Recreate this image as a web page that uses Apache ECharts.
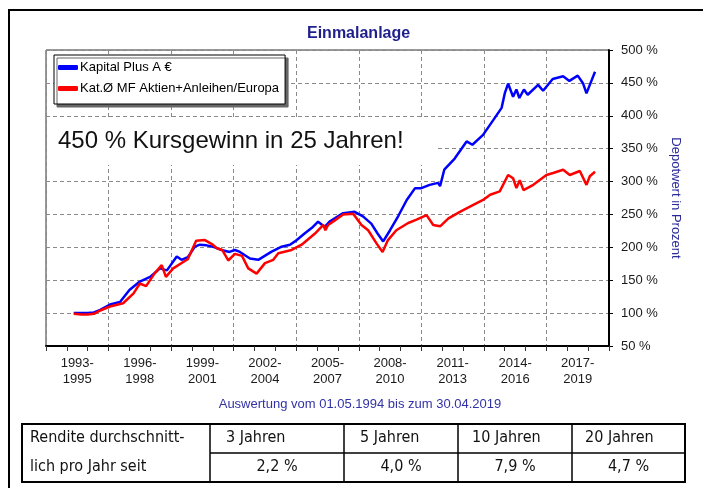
<!DOCTYPE html>
<html>
<head>
<meta charset="utf-8">
<title>Einmalanlage</title>
<script src="https://cdn.jsdelivr.net/npm/echarts@6/dist/echarts.min.js"></script>
<style>
  html, body { margin: 0; padding: 0; background: #fff; }
  #chart { width: 703px; height: 488px; }
</style>
</head>
<body>
<div id="chart"></div>
<script>
// x = Jahr (Dezimal), y = Depotwert in %
var kapitalX = [1994.33, 1994.7, 1995.0, 1995.3, 1995.6, 1996.07, 1996.55, 1997.0, 1997.5, 1997.99,
  1998.47, 1998.8, 1999.27, 1999.5, 1999.8, 2000.14, 2000.38, 2000.7, 2001.0, 2001.42,
  2001.8, 2002.06, 2002.3, 2002.54, 2002.78, 2003.18, 2003.8, 2004.3, 2004.7, 2004.94,
  2005.4, 2005.8, 2006.05, 2006.37, 2006.6, 2006.85, 2007.25, 2007.8, 2008.2, 2008.6,
  2008.9, 2009.17, 2009.5, 2009.9, 2010.3, 2010.7, 2011.0, 2011.4, 2011.8, 2011.9,
  2012.1, 2012.6, 2013.17, 2013.45, 2013.96, 2014.44, 2014.85, 2015.0, 2015.16, 2015.4,
  2015.56, 2015.7, 2015.92, 2016.1, 2016.6, 2016.84, 2017.3, 2017.8, 2018.1, 2018.5,
  2018.76, 2018.92, 2019.08, 2019.33];
var kapitalY = [100, 100, 100, 101, 105, 113, 117, 135, 148, 155,
  168, 165, 186, 181, 185, 201, 204, 203, 201, 196,
  193, 196, 193, 188, 183, 181, 193, 201, 204, 209,
  221, 231, 239, 231, 239, 244, 252, 254, 247, 236,
  221, 209, 226, 248, 272, 290, 290, 295, 298, 293,
  318, 335, 361, 356, 371, 393, 412, 434, 449, 429,
  440, 427, 440, 432, 447, 438, 456, 460, 453, 461,
  449, 434, 447, 467];

var katX = [1994.33, 1994.7, 1995.0, 1995.3, 1995.6, 1996.07, 1996.7, 1997.2, 1997.5, 1997.8,
  1998.2, 1998.55, 1998.75, 1999.1, 1999.6, 1999.8, 2000.2, 2000.62, 2001.0, 2001.18,
  2001.45, 2001.74, 2002.06, 2002.4, 2002.7, 2003.1, 2003.5, 2003.9, 2004.14, 2004.78,
  2005.26, 2005.9, 2006.3, 2006.4, 2006.53, 2006.85, 2007.25, 2007.73, 2008.13, 2008.45,
  2008.85, 2009.14, 2009.4, 2009.8, 2010.37, 2010.77, 2011.25, 2011.57, 2011.9, 2012.3,
  2012.85, 2013.33, 2013.96, 2014.3, 2014.76, 2015.16, 2015.4, 2015.56, 2015.72, 2015.9,
  2016.37, 2017.0, 2017.32, 2017.8, 2018.12, 2018.6, 2018.92, 2019.08, 2019.33];
var katY = [99, 98, 98, 99, 104, 110, 115, 130, 145, 141,
  160, 173, 155, 168, 178, 182, 210, 211, 204, 199,
  196, 180, 190, 187, 168, 160, 176, 181, 191, 196,
  204, 221, 234, 226, 234, 241, 250, 251, 234, 226,
  206, 193, 211, 226, 237, 242, 249, 234, 232, 244,
  254, 262, 272, 280, 285, 310, 305, 290, 302, 287,
  295, 310, 313, 318, 310, 316, 295, 308, 315];

var zeitraeume = ['1993-\n1995', '1996-\n1998', '1999-\n2001', '2002-\n2004', '2005-\n2007',
  '2008-\n2010', '2011-\n2013', '2014-\n2016', '2017-\n2019'];

var tabelleKopf = ['3 Jahren', '5 Jahren', '10 Jahren', '20 Jahren'];
var tabelleWerte = ['2,2 %', '4,0 %', '7,9 %', '4,7 %'];

function paare(xs, ys) {
  var out = [];
  for (var i = 0; i < xs.length; i++) out.push([xs[i], ys[i]]);
  return out;
}

var font = 'Liberation Sans, Arial, sans-serif';
var tabFont = '"DejaVu Sans Condensed", "Liberation Sans Narrow", sans-serif';

// Tabelle unten
var spalten = [22, 210, 344, 458, 572, 685];
var kopfLinks = [226, 360, 472, 585];
var tabTop = 424, tabMitte = 453, tabUnten = 482;
var tabelle = [
  { type: 'rect', shape: { x: spalten[0], y: tabTop, width: spalten[5] - spalten[0], height: tabUnten - tabTop },
    style: { fill: 'none', stroke: '#000', lineWidth: 2 } },
  { type: 'line', shape: { x1: spalten[1], y1: tabMitte, x2: spalten[5], y2: tabMitte },
    style: { stroke: '#000', lineWidth: 1.5 } },
  { type: 'text', x: 30, y: (tabTop + tabMitte) / 2 - 1,
    style: { text: 'Rendite durchschnitt-', font: '16px ' + tabFont, fill: '#111', verticalAlign: 'middle' } },
  { type: 'text', x: 30, y: (tabMitte + tabUnten) / 2 - 1,
    style: { text: 'lich pro Jahr seit', font: '16px ' + tabFont, fill: '#111', verticalAlign: 'middle' } }
];
for (var i = 1; i <= 4; i++) {
  tabelle.push({ type: 'line', shape: { x1: spalten[i], y1: tabTop, x2: spalten[i], y2: tabUnten },
    style: { stroke: '#000', lineWidth: 1.5 } });
  tabelle.push({ type: 'text', x: kopfLinks[i - 1], y: (tabTop + tabMitte) / 2 - 1,
    style: { text: tabelleKopf[i - 1], font: '16px ' + tabFont, fill: '#111', verticalAlign: 'middle' } });
  tabelle.push({ type: 'text', x: (spalten[i] + spalten[i + 1]) / 2, y: (tabMitte + tabUnten) / 2 - 1,
    style: { text: tabelleWerte[i - 1], font: '16px ' + tabFont, fill: '#111', textAlign: 'center', verticalAlign: 'middle' } });
}

var chart = echarts.init(document.getElementById('chart'));

var option = {
  animation: false,
  textStyle: { fontFamily: font },
  title: {
    text: 'Einmalanlage',
    left: 307,
    top: 26,
    padding: 0,
    textStyle: { fontSize: 16, fontWeight: 'bold', color: '#1f1f8c', fontFamily: font }
  },
  legend: {
    orient: 'vertical',
    left: 54,
    top: 55,
    padding: [6, 6, 9, 4],
    itemGap: 8,
    itemWidth: 20,
    itemHeight: 5,
    icon: 'roundRect',
    backgroundColor: '#fff',
    borderColor: '#000',
    borderWidth: 1,
    shadowColor: '#666',
    shadowOffsetX: 3,
    shadowOffsetY: 3,
    shadowBlur: 0,
    textStyle: { fontSize: 13, color: '#000', fontFamily: font, padding: [0, 0, 0, -3] },
    data: ['Kapital Plus A €', 'Kat.Ø MF Aktien+Anleihen/Europa']
  },
  grid: {
    left: 46, top: 50, right: 94, bottom: 142,
    show: true, borderColor: '#333', borderWidth: 1
  },
  xAxis: [{
    type: 'value',
    min: 1993, max: 2020, interval: 1,
    position: 'bottom',
    axisLine: { lineStyle: { color: '#000', width: 2 } },
    axisTick: { show: true, length: 5, lineStyle: { color: '#333', width: 1 } },
    axisLabel: { show: false },
    splitLine: { show: false }
  }, {
    type: 'category',
    data: zeitraeume,
    boundaryGap: true,
    position: 'bottom',
    axisLine: { show: false },
    axisTick: { show: false },
    axisLabel: { margin: 9, fontSize: 13, lineHeight: 16, color: '#1a1a1a', fontFamily: font },
    splitLine: { show: true, lineStyle: { color: '#8a8a8a', type: [4, 3], width: 1 } }
  }],
  yAxis: {
    type: 'value',
    position: 'right',
    min: 50, max: 500, interval: 50,
    name: 'Depotwert in Prozent',
    nameLocation: 'middle',
    nameRotate: -90,
    nameGap: 55,
    nameTextStyle: { fontSize: 13, color: '#2a2a9a', fontFamily: font },
    axisLine: { show: true, lineStyle: { color: '#000', width: 2 } },
    axisTick: { show: true, length: 4, lineStyle: { color: '#000' } },
    axisLabel: { formatter: '{value} %', margin: 12, fontSize: 13, color: '#1a1a1a', fontFamily: font },
    splitLine: { show: true, lineStyle: { color: '#8a8a8a', type: [4, 3], width: 1 } }
  },
  graphic: [
    { type: 'rect', silent: true, shape: { x: 9, y: 10, width: 760, height: 560 },
      style: { fill: 'none', stroke: '#000', lineWidth: 2 } },
    // weisser Kasten hinter dem Slogan
    { type: 'rect', silent: true, z: 5, shape: { x: 47, y: 118, width: 389, height: 47 },
      style: { fill: '#fff' } },
    { type: 'text', silent: true, z: 6, x: 58, y: 141,
      style: { text: '450 % Kursgewinn in 25 Jahren!', font: '24px ' + font, fill: '#111', verticalAlign: 'middle' } },
    { type: 'text', silent: true, x: 360, y: 404,
      style: { text: 'Auswertung vom 01.05.1994 bis zum 30.04.2019', font: '13px ' + font,
        fill: '#3232a8', textAlign: 'center', verticalAlign: 'middle' } }
  ].concat(tabelle),
  series: [{
    name: 'Kapital Plus A €',
    type: 'line',
    xAxisIndex: 0,
    showSymbol: false,
    color: '#0000ff',
    lineStyle: { width: 2.5, color: '#0000ff' },
    data: paare(kapitalX, kapitalY)
  }, {
    name: 'Kat.Ø MF Aktien+Anleihen/Europa',
    type: 'line',
    xAxisIndex: 0,
    showSymbol: false,
    color: '#ff0000',
    lineStyle: { width: 2.5, color: '#ff0000' },
    data: paare(katX, katY)
  }]
};

chart.setOption(option);
</script>
</body>
</html>
